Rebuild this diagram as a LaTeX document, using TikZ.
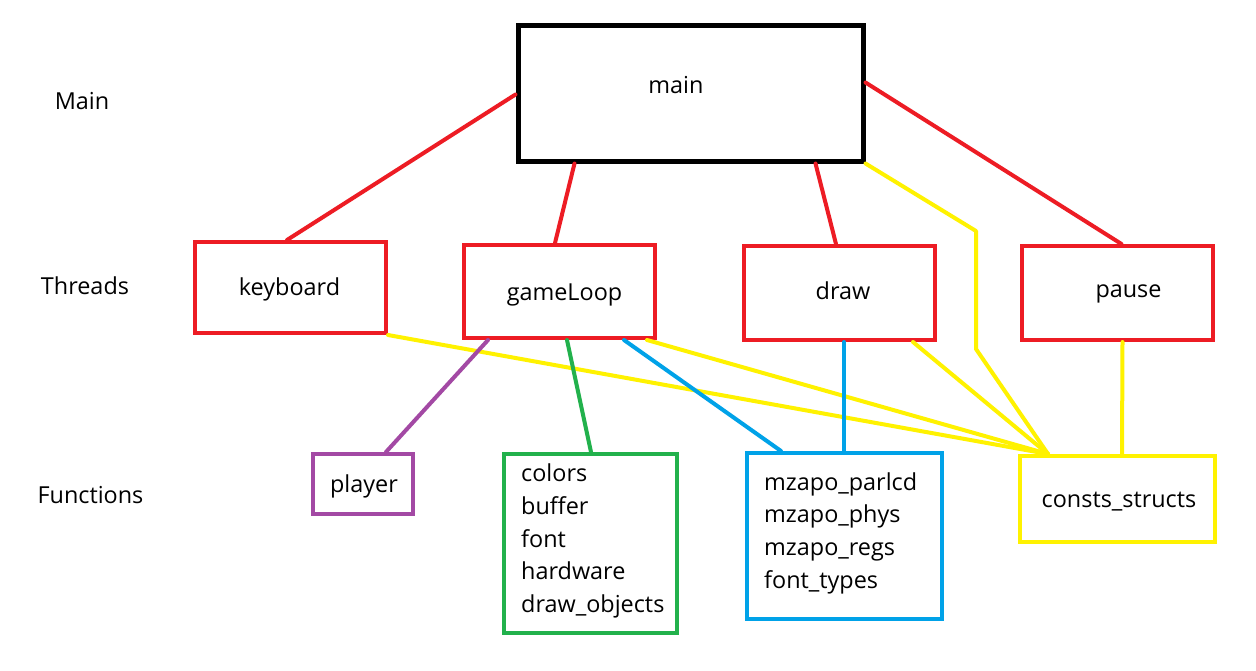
\documentclass[tikz,border=0pt]{standalone}
\usepackage{fontspec}
\setmainfont{Open Sans}
\usetikzlibrary{calc}
\definecolor{cred}{HTML}{ED1C24}
\definecolor{cyel}{HTML}{FFF200}
\definecolor{cblue}{HTML}{00A2E8}
\definecolor{cgreen}{HTML}{22B14C}
\definecolor{cpurp}{HTML}{A349A4}
\begin{document}
\begin{tikzpicture}[x=1pt,y=-1pt,
  box/.style={draw, line width=4pt, inner sep=0pt, minimum width=#1},
  txt/.style={anchor=base, inner sep=0pt, font=\fontsize{23.4}{28}\selectfont},
  ltxt/.style={anchor=base west, inner sep=0pt, font=\fontsize{23.4}{28}\selectfont},
  conn/.style={line width=4pt, line cap=round, line join=round}]
\useasboundingbox[fill=white] (0,0) rectangle (1256,670);
% boxes
\node[box=345pt, draw=black, line width=5pt, minimum height=136pt] (main) at (690.5,93) {};
\node[box=191pt, draw=cred, minimum height=91pt] (keyboard) at (290.5,287.5) {};
\node[box=191pt, draw=cred, minimum height=93pt] (gameloop) at (559.5,291.5) {};
\node[box=191pt, draw=cred, minimum height=94pt] (draw) at (839.5,293) {};
\node[box=191pt, draw=cred, minimum height=94pt] (pause) at (1117,293) {};
\node[box=100pt, draw=cpurp, minimum height=60pt] (player) at (363,484) {};
\node[box=173pt, draw=cgreen, minimum height=179pt] (green) at (590.5,543.5) {};
\node[box=195pt, draw=cblue, minimum height=166pt] (blue) at (844.5,536) {};
\node[box=195pt, draw=cyel, minimum height=86pt] (consts) at (1117.5,499) {};
% texts
\node[txt] (mainT) at (676,93) {main};
\node[txt] (keyT) at (289.5,295.5) {keyboard};
\node[txt] (gameT) at (564.5,300) {gameLoop};
\node[txt] (drawT) at (843,299) {draw};
\node[txt] (pauseT) at (1128.5,297) {pause};
\node[txt] (playerT) at (364,492) {player};
\node[txt] (constsT) at (1119,507) {consts\_structs};
\node[txt] (lMain) at (82,109) {Main};
\node[txt] (lThreads) at (85,294) {Threads};
\node[txt] (lFunc) at (90.5,503) {Functions};
\node[ltxt] (g1) at (521,481) {colors};
\node[ltxt] (g2) at (521,514) {buffer};
\node[ltxt] (g3) at (521,547) {font};
\node[ltxt] (g4) at (521,579) {hardware};
\node[ltxt] (g5) at (521,612) {draw\_objects};
\node[ltxt] (b1) at (764,490) {mzapo\_parlcd};
\node[ltxt] (b2) at (764,522) {mzapo\_phys};
\node[ltxt] (b3) at (764,555) {mzapo\_regs};
\node[ltxt] (b4) at (764,588) {font\_types};
% coordinates
\coordinate (conv) at ($(consts.north west)+(30,0)$);
\coordinate (bendA) at (976,231);
\coordinate (bendB) at (976,349);
% red connectors
\draw[conn, draw=cred] ($(main.north west)+(0,72)$) -- ($(keyboard.north west)+(94,0)$);
\draw[conn, draw=cred] ($(main.south west)+(59,0)$) -- ($(gameloop.north west)+(93,0)$);
\draw[conn, draw=cred] ($(main.south west)+(300,0)$) -- ($(draw.north west)+(94,0)$);
\draw[conn, draw=cred] ($(main.north east)+(0,60)$) -- ($(pause.north west)+(102,0)$);
% yellow connectors
\draw[conn, draw=cyel] (main.south east) -- (bendA) -- (bendB) -- (conv);
\draw[conn, draw=cyel] (keyboard.south east) -- (conv);
\draw[conn, draw=cyel] ($(gameloop.south east)+(-10,0)$) -- (conv);
\draw[conn, draw=cyel] ($(draw.south west)+(171,0)$) -- (conv);
\draw[conn, draw=cyel] ($(pause.south west)+(103,0)$) -- ($(consts.north west)+(104,0)$);
% others
\draw[conn, draw=cpurp] ($(gameloop.south west)+(26,0)$) -- ($(player.north west)+(75,0)$);
\draw[conn, draw=cgreen] ($(gameloop.south west)+(105,0)$) -- ($(green.north west)+(89,0)$);
\draw[conn, draw=cblue] ($(gameloop.south west)+(162,0)$) -- ($(blue.north west)+(36,0)$);
\draw[conn, draw=cblue] ($(draw.south west)+(102,0)$) -- ($(blue.north west)+(99,0)$);
\end{tikzpicture}
\end{document}
